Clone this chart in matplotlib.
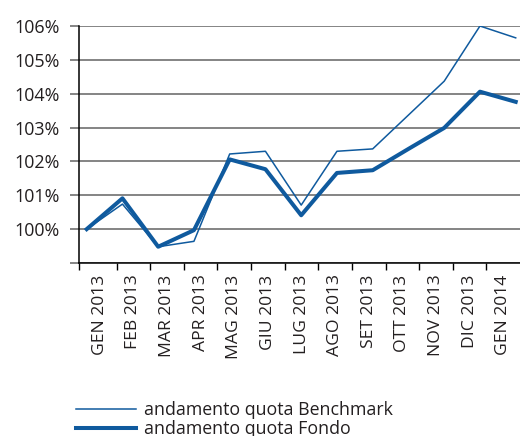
"""Andamento quota Fondo vs Benchmark, gen 2013 - gen 2014."""

import matplotlib

matplotlib.use("Agg")
import matplotlib.pyplot as plt
from matplotlib.ticker import FixedLocator, FuncFormatter

mesi = ["GEN 2013", "FEB 2013", "MAR 2013", "APR 2013", "MAG 2013", "GIU 2013",
        "LUG 2013", "AGO 2013", "SET 2013", "OTT 2013", "NOV 2013", "DIC 2013",
        "GEN 2014"]
benchmark = [100.0, 100.74, 99.48, 99.64, 102.22, 102.30, 100.71, 102.30,
             102.37, 103.37, 104.37, 106.0, 105.65]
fondo = [100.0, 100.91, 99.48, 99.97, 102.06, 101.77, 100.41, 101.66,
         101.74, 102.37, 102.99, 104.06, 103.76]
y_ticks = [99, 100, 101, 102, 103, 104, 105, 106]

blu = "#0f5a9e"
testo = "#231f20"
griglia = "#707070"

plt.rcParams["font.family"] = ["Open Sans", "DejaVu Sans"]

fig = plt.figure(figsize=(5.2, 4.36), dpi=100)
ax = fig.add_axes([79 / 520, 1 - 263 / 436, 1 - 79 / 520, (263 - 26) / 436])

# category axis (labels + tick marks between months)
n = len(mesi)
ax.set_xlim(-0.62, n - 0.5)
ax.set_ylim(y_ticks[0], y_ticks[-1])
ax.set_xticks(range(n))
ax.set_xticklabels(mesi, rotation=90, fontsize=12.6, color=testo)
ax.tick_params(axis="x", which="major", length=0, pad=8.2)
ax.xaxis.set_minor_locator(FixedLocator([-0.62] + [i - 0.5 for i in range(1, n)]))
ax.tick_params(axis="x", which="minor", length=5, width=1.0, color="black",
               direction="out")

ax.set_yticks(y_ticks)
ax.yaxis.set_major_formatter(
    FuncFormatter(lambda v, _: "" if v == y_ticks[0] else f"{v:.0f}%"))
ax.tick_params(axis="y", length=6.5, width=1.2, color=griglia, pad=7.5,
               labelsize=12.9, labelcolor=testo)
ax.yaxis.get_major_ticks()[0].tick1line.set_color("black")
ax.grid(axis="y", color=griglia, linewidth=1.2)
ax.set_axisbelow(True)

for side in ("top", "right"):
    ax.spines[side].set_visible(False)
ax.spines["left"].set_color("black")
ax.spines["left"].set_linewidth(1.1)
ax.spines["bottom"].set_color("black")
ax.spines["bottom"].set_linewidth(1.1)

# lines drawn on an overlay axis (points slightly offset from the labels)
axl = ax.twiny()
axl.set_xlim(-0.215, 12.12)
axl.axis("off")
x = list(range(n))
axl.plot(x, benchmark, color=blu, linewidth=1.1,
         label="andamento quota Benchmark", clip_on=True)
axl.plot(x, fondo, color=blu, linewidth=2.9,
         label="andamento quota Fondo", clip_on=True)

fig.legend(loc="upper left", bbox_to_anchor=(76 / 520, 1 - 401 / 436),
           frameon=False, borderpad=0, borderaxespad=0, handlelength=3.4,
           handletextpad=0.42, labelspacing=0.08, fontsize=12.8,
           labelcolor=testo)

fig.savefig("out.png", dpi=100)
